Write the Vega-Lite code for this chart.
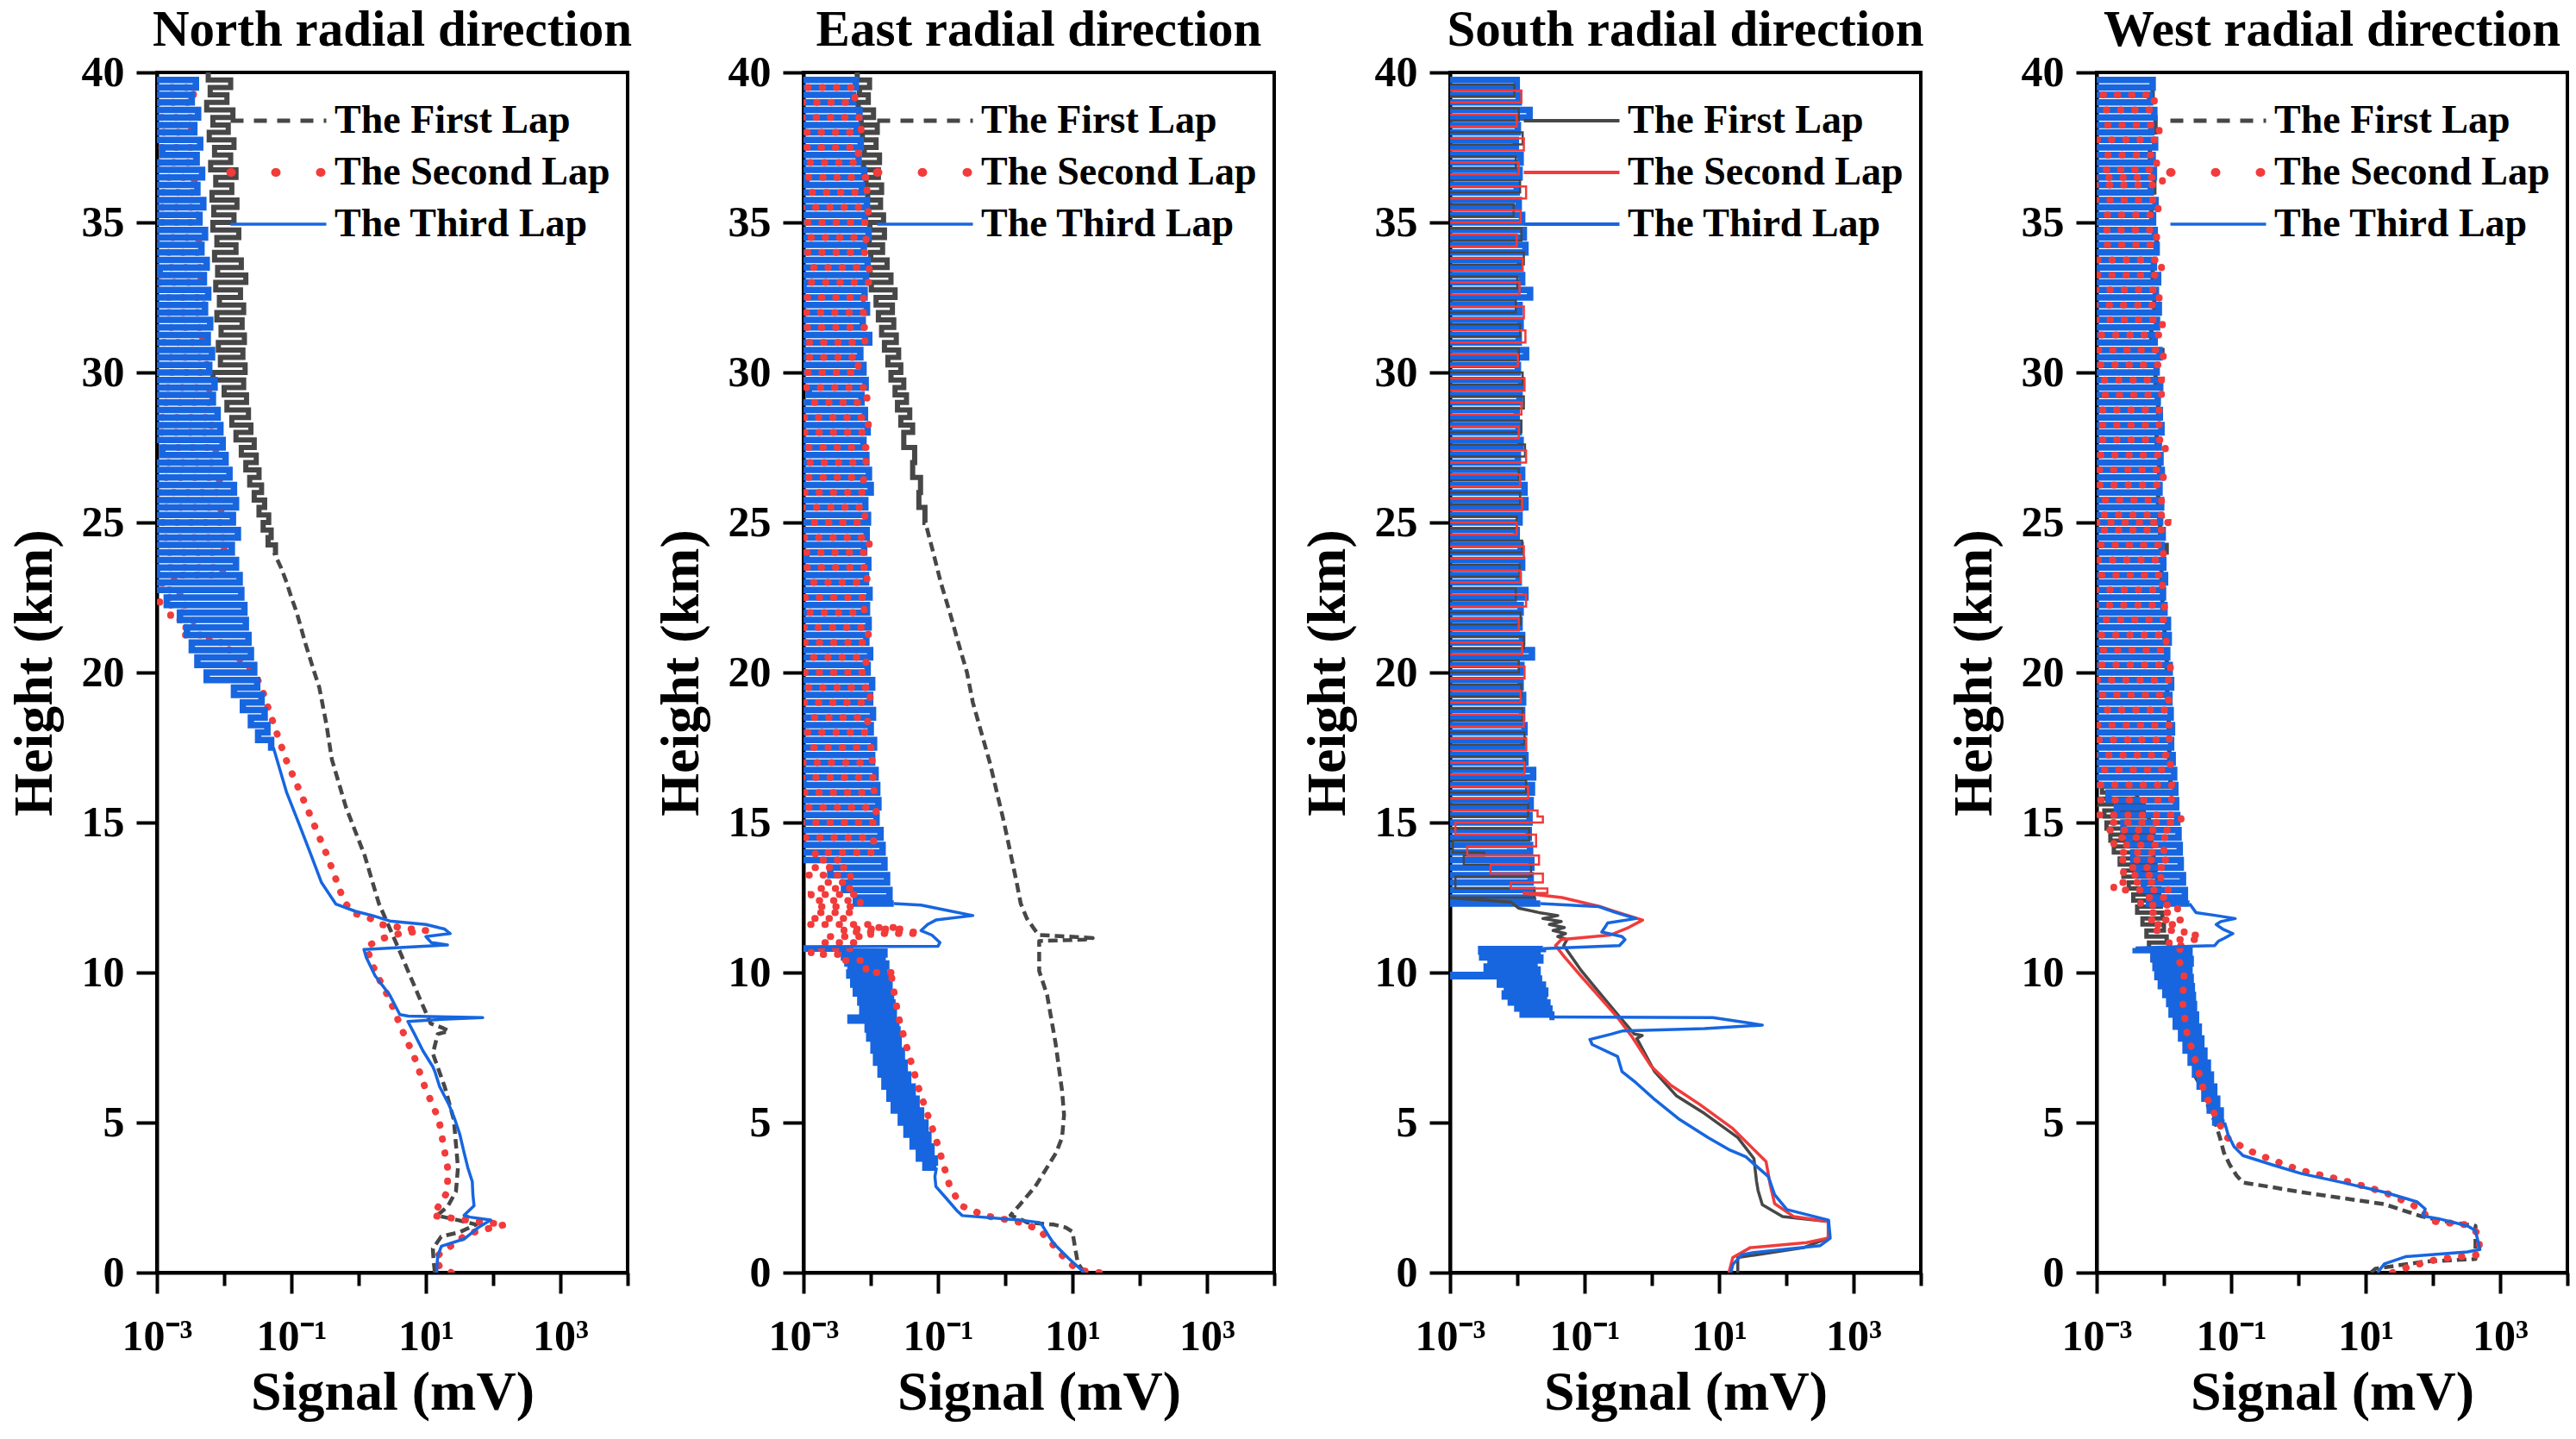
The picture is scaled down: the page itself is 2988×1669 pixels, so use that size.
{
  "$schema": "https://vega.github.io/schema/vega-lite/v6.json",
  "background": "white",
  "padding": {"left": 6, "top": 4, "right": 0, "bottom": 0},
  "bounds": "flush",
  "spacing": 204,
  "config": {
    "font": "Liberation Serif",
    "view": {"stroke": "black", "strokeWidth": 4},
    "title": {"font": "Liberation Serif", "fontSize": 59, "fontWeight": "bold", "color": "black", "anchor": "middle", "offset": -6},
    "axis": {
      "grid": false, "labelFont": "Liberation Serif", "labelFontSize": 50, "labelFontWeight": "bold", "labelColor": "black",
      "titleFont": "Liberation Serif", "titleFontSize": 64, "titleFontWeight": "bold", "titleColor": "black",
      "domainColor": "black", "domainWidth": 4, "tickColor": "black", "tickWidth": 4,
      "labelFlush": false, "labelOverlap": false, "labelBound": false
    },
    "legend": {
      "title": null, "orient": "none", "symbolType": "stroke", "symbolSize": 12321, "symbolStrokeWidth": 4,
      "labelFont": "Liberation Serif", "labelFontSize": 46, "labelFontWeight": "bold", "labelColor": "black",
      "labelOffset": 10, "rowPadding": 14, "padding": 0, "labelLimit": 0
    }
  },
  "resolve": {"scale": {"color": "independent", "x": "independent", "y": "independent"}},
  "datasets": {
    "nF": [
      {"h":40,"v":0.0058},{"h":39.75,"v":0.0125},{"h":39.5,"v":0.0062},{"h":39.25,"v":0.011},{"h":39,"v":0.0055},{"h":38.75,"v":0.0135},{"h":38.5,"v":0.0068},{"h":38.25,"v":0.0115},{"h":38,"v":0.006},{"h":37.75,"v":0.014},{"h":37.5,"v":0.0072},{"h":37.25,"v":0.0125},{"h":37,"v":0.0063},{"h":36.75,"v":0.015},{"h":36.5,"v":0.0075},{"h":36.25,"v":0.013},{"h":36,"v":0.0066},{"h":35.75,"v":0.0155},{"h":35.5,"v":0.007},{"h":35.25,"v":0.014},{"h":35,"v":0.0068},{"h":34.75,"v":0.0165},{"h":34.5,"v":0.0078},{"h":34.25,"v":0.015},{"h":34,"v":0.0072},{"h":33.75,"v":0.018},{"h":33.5,"v":0.008},{"h":33.25,"v":0.021},{"h":33,"v":0.0075},{"h":32.75,"v":0.0175},{"h":32.5,"v":0.0085},{"h":32.25,"v":0.0195},{"h":32,"v":0.0078},{"h":31.75,"v":0.0185},{"h":31.5,"v":0.009},{"h":31.25,"v":0.02},{"h":31,"v":0.0082},{"h":30.75,"v":0.019},{"h":30.5,"v":0.0088},{"h":30.25,"v":0.0205},{"h":30,"v":0.0068},{"h":29.75,"v":0.0195},{"h":29.5,"v":0.01},{"h":29.25,"v":0.0215},{"h":29,"v":0.011},{"h":28.75,"v":0.023},{"h":28.5,"v":0.013},{"h":28.25,"v":0.025},{"h":28,"v":0.015},{"h":27.75,"v":0.028},{"h":27.5,"v":0.018},{"h":27.25,"v":0.03},{"h":27,"v":0.021},{"h":26.75,"v":0.033},{"h":26.5,"v":0.024},{"h":26.25,"v":0.036},{"h":26,"v":0.028},{"h":25.75,"v":0.04},{"h":25.5,"v":0.033},{"h":25.25,"v":0.046},{"h":25,"v":0.038},{"h":24.75,"v":0.05},{"h":24.5,"v":0.045},{"h":24.25,"v":0.058},{"h":24,"v":0.055},{"h":23.5,"v":0.07},{"h":23,"v":0.085},{"h":22.5,"v":0.1},{"h":22,"v":0.12},{"h":21,"v":0.16},{"h":20,"v":0.22},{"h":19.5,"v":0.26},{"h":18.3,"v":0.33},{"h":17.1,"v":0.4},{"h":15.5,"v":0.65},{"h":13.9,"v":1.23},{"h":12.3,"v":2},{"h":11.5,"v":2.87},{"h":10.7,"v":4.1},{"h":9.9,"v":5.8},{"h":9.25,"v":7.7},{"h":8.3,"v":11.8},{"h":8.15,"v":18},{"h":8.05,"v":22},{"h":7.95,"v":15},{"h":7.3,"v":12.7},{"h":6.2,"v":19},{"h":5.1,"v":26},{"h":3.5,"v":30},{"h":2.7,"v":28},{"h":2.2,"v":21},{"h":1.9,"v":14.6},{"h":1.75,"v":30},{"h":1.6,"v":56},{"h":1.35,"v":32},{"h":1.2,"v":16.9},{"h":0.8,"v":12.7},{"h":0.4,"v":13},{"h":0,"v":13.6}
    ],
    "nS": [
      {"h":40,"v":0.0006},{"h":39.5,"v":0.0035},{"h":39,"v":0.0007},{"h":38.5,"v":0.0032},{"h":38,"v":0.0006},{"h":37.5,"v":0.0038},{"h":37,"v":0.0008},{"h":36.5,"v":0.0036},{"h":36,"v":0.0006},{"h":35.5,"v":0.004},{"h":35,"v":0.0007},{"h":34.5,"v":0.0042},{"h":34,"v":0.0006},{"h":33.5,"v":0.0045},{"h":33,"v":0.0008},{"h":32.5,"v":0.005},{"h":32,"v":0.0006},{"h":31.5,"v":0.0048},{"h":31,"v":0.0007},{"h":30.5,"v":0.0055},{"h":30,"v":0.0006},{"h":29.5,"v":0.006},{"h":29,"v":0.0008},{"h":28.5,"v":0.0065},{"h":28,"v":0.0006},{"h":27.5,"v":0.0075},{"h":27,"v":0.0007},{"h":26.5,"v":0.0085},{"h":26,"v":0.0006},{"h":25.5,"v":0.009},{"h":25,"v":0.0008},{"h":24.5,"v":0.01},{"h":24,"v":0.0006},{"h":23.5,"v":0.0095},{"h":23.25,"v":0.0018},{"h":23,"v":0.0012},{"h":22.75,"v":0.0022},{"h":22.5,"v":0.0011},{"h":22.25,"v":0.0028},{"h":22,"v":0.0016},{"h":21.75,"v":0.0035},{"h":21.5,"v":0.0024},{"h":21.25,"v":0.006},{"h":21,"v":0.009},{"h":20.5,"v":0.016},{"h":20,"v":0.028},{"h":19.5,"v":0.036},{"h":18.7,"v":0.047},{"h":17.1,"v":0.083},{"h":15.5,"v":0.17},{"h":13.9,"v":0.34},{"h":12.4,"v":0.6},{"h":12,"v":0.8},{"h":11.8,"v":1.5},{"h":11.6,"v":2.2},{"h":11.45,"v":6},{"h":11.4,"v":10},{"h":11.3,"v":4.1},{"h":11.1,"v":2},{"h":10.85,"v":1.3},{"h":10.05,"v":1.75},{"h":9.1,"v":2.9},{"h":8.1,"v":4.4},{"h":7.2,"v":6.7},{"h":6.2,"v":9.6},{"h":5.1,"v":15.6},{"h":3.5,"v":21},{"h":2.7,"v":21},{"h":1.9,"v":12.7},{"h":1.7,"v":60},{"h":1.6,"v":150},{"h":1.3,"v":42},{"h":0.5,"v":13.6},{"h":0.2,"v":16},{"h":0,"v":24}
    ],
    "nT": [
      {"h":40,"v":0.0006},{"h":39.75,"v":0.0038},{"h":39.5,"v":0.0007},{"h":39.25,"v":0.0033},{"h":39,"v":0.0005},{"h":38.75,"v":0.0041},{"h":38.5,"v":0.0008},{"h":38.25,"v":0.0036},{"h":38,"v":0.0006},{"h":37.75,"v":0.0044},{"h":37.5,"v":0.0012},{"h":37.25,"v":0.0039},{"h":37,"v":0.0006},{"h":36.75,"v":0.0047},{"h":36.5,"v":0.0007},{"h":36.25,"v":0.004},{"h":36,"v":0.0005},{"h":35.75,"v":0.0049},{"h":35.5,"v":0.0009},{"h":35.25,"v":0.0043},{"h":35,"v":0.0006},{"h":34.75,"v":0.0052},{"h":34.5,"v":0.0007},{"h":34.25,"v":0.0046},{"h":34,"v":0.0006},{"h":33.75,"v":0.0055},{"h":33.5,"v":0.0011},{"h":33.25,"v":0.005},{"h":33,"v":0.0005},{"h":32.75,"v":0.0058},{"h":32.5,"v":0.0007},{"h":32.25,"v":0.0052},{"h":32,"v":0.0006},{"h":31.75,"v":0.0062},{"h":31.5,"v":0.0008},{"h":31.25,"v":0.0057},{"h":31,"v":0.0006},{"h":30.75,"v":0.0066},{"h":30.5,"v":0.0007},{"h":30.25,"v":0.006},{"h":30,"v":0.0005},{"h":29.75,"v":0.0072},{"h":29.5,"v":0.0009},{"h":29.25,"v":0.0068},{"h":29,"v":0.0006},{"h":28.75,"v":0.008},{"h":28.5,"v":0.0007},{"h":28.25,"v":0.0088},{"h":28,"v":0.0006},{"h":27.75,"v":0.0095},{"h":27.5,"v":0.0012},{"h":27.25,"v":0.0105},{"h":27,"v":0.0006},{"h":26.75,"v":0.012},{"h":26.5,"v":0.0007},{"h":26.25,"v":0.014},{"h":26,"v":0.0005},{"h":25.75,"v":0.015},{"h":25.5,"v":0.0008},{"h":25.25,"v":0.0135},{"h":25,"v":0.0006},{"h":24.75,"v":0.016},{"h":24.5,"v":0.0007},{"h":24.25,"v":0.013},{"h":24,"v":0.0006},{"h":23.75,"v":0.015},{"h":23.5,"v":0.001},{"h":23.25,"v":0.017},{"h":23,"v":0.0007},{"h":22.75,"v":0.018},{"h":22.5,"v":0.0014},{"h":22.25,"v":0.02},{"h":22,"v":0.0022},{"h":21.75,"v":0.021},{"h":21.5,"v":0.0028},{"h":21.25,"v":0.023},{"h":21,"v":0.0033},{"h":20.75,"v":0.025},{"h":20.5,"v":0.004},{"h":20.25,"v":0.028},{"h":20,"v":0.0055},{"h":19.75,"v":0.031},{"h":19.5,"v":0.014},{"h":19.25,"v":0.036},{"h":19,"v":0.019},{"h":18.75,"v":0.04},{"h":18.5,"v":0.025},{"h":18.25,"v":0.044},{"h":18,"v":0.032},{"h":17.75,"v":0.05},{"h":17.5,"v":0.054},
      {"h":16,"v":0.085},{"h":14.95,"v":0.13},{"h":14,"v":0.19},{"h":13,"v":0.28},{"h":12.28,"v":0.46},{"h":12.04,"v":0.9},{"h":11.9,"v":1.6},{"h":11.72,"v":2.9},{"h":11.6,"v":10},{"h":11.45,"v":19},{"h":11.3,"v":23},{"h":11.2,"v":10},{"h":11,"v":12},{"h":10.92,"v":21},{"h":10.77,"v":1.2},{"h":10.5,"v":1.3},{"h":9.9,"v":1.75},{"h":9.25,"v":2.9},{"h":8.6,"v":4.1},{"h":8.55,"v":5.5},{"h":8.5,"v":70},{"h":8.45,"v":20},{"h":8.37,"v":5.4},{"h":7.97,"v":6.7},{"h":7.4,"v":9},{"h":6.86,"v":12.7},{"h":6.7,"v":13.6},{"h":6.2,"v":16},{"h":5.6,"v":22},{"h":5.1,"v":27},{"h":4.6,"v":32},{"h":4,"v":37},{"h":3.5,"v":42},{"h":3.03,"v":49},{"h":2.6,"v":50},{"h":2.23,"v":52},{"h":1.91,"v":37},{"h":1.85,"v":45},{"h":1.75,"v":92},{"h":1.5,"v":60},{"h":1.12,"v":37},{"h":0.88,"v":17},{"h":0.56,"v":15},{"h":0.3,"v":14.7},{"h":0,"v":14.5}
    ],
    "eF": [
      {"h":40,"v":0.0063},{"h":39.75,"v":0.0096},{"h":39.5,"v":0.0068},{"h":39.25,"v":0.0092},{"h":39,"v":0.0065},{"h":38.75,"v":0.011},{"h":38.5,"v":0.0072},{"h":38.25,"v":0.0125},{"h":38,"v":0.0075},{"h":37.75,"v":0.012},{"h":37.5,"v":0.008},{"h":37.25,"v":0.0135},{"h":37,"v":0.0078},{"h":36.75,"v":0.013},{"h":36.5,"v":0.0085},{"h":36.25,"v":0.0145},{"h":36,"v":0.009},{"h":35.75,"v":0.014},{"h":35.5,"v":0.0088},{"h":35.25,"v":0.0155},{"h":35,"v":0.0097},{"h":34.75,"v":0.016},{"h":34.5,"v":0.0095},{"h":34.25,"v":0.015},{"h":34,"v":0.01},{"h":33.75,"v":0.0175},{"h":33.5,"v":0.0098},{"h":33.25,"v":0.02},{"h":33,"v":0.0102},{"h":32.75,"v":0.023},{"h":32.5,"v":0.012},{"h":32.25,"v":0.021},{"h":32,"v":0.013},{"h":31.75,"v":0.022},{"h":31.5,"v":0.0145},{"h":31.25,"v":0.024},{"h":31,"v":0.016},{"h":30.75,"v":0.026},{"h":30.5,"v":0.018},{"h":30.25,"v":0.028},{"h":30,"v":0.02},{"h":29.75,"v":0.031},{"h":29.5,"v":0.023},{"h":29.25,"v":0.034},{"h":29,"v":0.025},{"h":28.75,"v":0.038},{"h":28.5,"v":0.028},{"h":28.25,"v":0.042},{"h":28,"v":0.031},{"h":27.5,"v":0.045},{"h":27,"v":0.042},{"h":26.5,"v":0.055},{"h":26,"v":0.052},{"h":25.5,"v":0.064},{"h":25,"v":0.065},{"h":24,"v":0.085},{"h":23,"v":0.11},{"h":22,"v":0.15},{"h":21,"v":0.2},{"h":20,"v":0.27},{"h":19,"v":0.33},{"h":17,"v":0.59},{"h":15,"v":0.96},{"h":13,"v":1.48},{"h":12.3,"v":1.7},{"h":11.8,"v":2.1},{"h":11.4,"v":2.8},{"h":11.25,"v":3.2},{"h":11.2,"v":9},{"h":11.15,"v":20},{"h":11.1,"v":15},{"h":11.05,"v":3.2},{"h":10.05,"v":3.2},{"h":9.25,"v":4.2},{"h":7.65,"v":5.6},{"h":6.06,"v":7},{"h":5.26,"v":7.5},{"h":4.5,"v":7},{"h":3.99,"v":5.7},{"h":2.87,"v":2.8},{"h":2.23,"v":1.6},{"h":1.91,"v":1.2},{"h":1.75,"v":1.8},{"h":1.67,"v":2.1},{"h":1.6,"v":5.3},{"h":1.5,"v":8},{"h":1.36,"v":10},{"h":0.96,"v":10.7},{"h":0.32,"v":12},{"h":0,"v":15}
    ],
    "eS": [
      {"h":40,"v":0.0007},{"h":39.5,"v":0.0058},{"h":39,"v":0.0006},{"h":38.5,"v":0.0072},{"h":38,"v":0.0009},{"h":37.5,"v":0.0065},{"h":37,"v":0.0006},{"h":36.5,"v":0.0088},{"h":36,"v":0.0007},{"h":35.5,"v":0.0092},{"h":35,"v":0.0006},{"h":34.5,"v":0.0085},{"h":34,"v":0.0008},{"h":33.5,"v":0.0095},{"h":33,"v":0.0006},{"h":32.5,"v":0.0078},{"h":32,"v":0.0007},{"h":31.5,"v":0.0082},{"h":31,"v":0.0006},{"h":30.5,"v":0.0065},{"h":30,"v":0.0009},{"h":29.5,"v":0.0088},{"h":29,"v":0.0006},{"h":28.5,"v":0.0092},{"h":28,"v":0.0007},{"h":27.5,"v":0.0085},{"h":27,"v":0.0006},{"h":26.5,"v":0.0078},{"h":26,"v":0.0008},{"h":25.5,"v":0.0082},{"h":25,"v":0.0006},{"h":24.5,"v":0.0095},{"h":24,"v":0.0007},{"h":23.5,"v":0.0088},{"h":23,"v":0.0006},{"h":22.5,"v":0.008},{"h":22,"v":0.0009},{"h":21.5,"v":0.0092},{"h":21,"v":0.0006},{"h":20.5,"v":0.0085},{"h":20,"v":0.0007},{"h":19.5,"v":0.0098},{"h":19,"v":0.0006},{"h":18.5,"v":0.009},{"h":18,"v":0.0008},{"h":17.5,"v":0.0105},{"h":17,"v":0.0006},{"h":16.5,"v":0.0112},{"h":16,"v":0.0007},{"h":15.5,"v":0.012},{"h":15,"v":0.0008},{"h":14.5,"v":0.011},{"h":14,"v":0.0015},{"h":13.75,"v":0.004},{"h":13.5,"v":0.0012},{"h":13.25,"v":0.005},{"h":13,"v":0.0018},{"h":12.8,"v":0.006},{"h":12.6,"v":0.0013},{"h":12.4,"v":0.007},{"h":12.2,"v":0.0016},{"h":12,"v":0.005},{"h":11.8,"v":0.0012},{"h":11.6,"v":0.012},{"h":11.5,"v":0.03},{"h":11.45,"v":0.004},{"h":11.35,"v":0.053},{"h":11.3,"v":0.01},{"h":11.2,"v":0.002},{"h":11,"v":0.006},{"h":10.8,"v":0.0013},{"h":10.6,"v":0.004},{"h":10.4,"v":0.0085},{"h":10,"v":0.02},{"h":9.4,"v":0.022},{"h":8.5,"v":0.026},{"h":7.65,"v":0.033},{"h":6.06,"v":0.053},{"h":4.47,"v":0.093},{"h":2.87,"v":0.15},{"h":2.23,"v":0.22},{"h":1.9,"v":0.5},{"h":1.67,"v":1.7},{"h":1.43,"v":3.2},{"h":0.96,"v":5},{"h":0.5,"v":7.5},{"h":0.08,"v":12},{"h":0,"v":25}
    ],
    "eT": [
      {"h":40,"v":0.0005},{"h":39.75,"v":0.006},{"h":39.5,"v":0.0007},{"h":39.25,"v":0.0055},{"h":39,"v":0.0006},{"h":38.75,"v":0.0068},{"h":38.5,"v":0.0009},{"h":38.25,"v":0.0062},{"h":38,"v":0.0005},{"h":37.75,"v":0.0071},{"h":37.5,"v":0.0007},{"h":37.25,"v":0.0066},{"h":37,"v":0.0006},{"h":36.75,"v":0.008},{"h":36.5,"v":0.0011},{"h":36.25,"v":0.0074},{"h":36,"v":0.0006},{"h":35.75,"v":0.0088},{"h":35.5,"v":0.0007},{"h":35.25,"v":0.0082},{"h":35,"v":0.0005},{"h":34.75,"v":0.0093},{"h":34.5,"v":0.0008},{"h":34.25,"v":0.0079},{"h":34,"v":0.0006},{"h":33.75,"v":0.009},{"h":33.5,"v":0.0007},{"h":33.25,"v":0.0085},{"h":33,"v":0.001},{"h":32.75,"v":0.0081},{"h":32.5,"v":0.0006},{"h":32.25,"v":0.0088},{"h":32,"v":0.0007},{"h":31.75,"v":0.0076},{"h":31.5,"v":0.0005},{"h":31.25,"v":0.0095},{"h":31,"v":0.0008},{"h":30.75,"v":0.007},{"h":30.5,"v":0.0006},{"h":30.25,"v":0.0078},{"h":30,"v":0.0007},{"h":29.75,"v":0.0084},{"h":29.5,"v":0.0012},{"h":29.25,"v":0.0073},{"h":29,"v":0.0006},{"h":28.75,"v":0.0082},{"h":28.5,"v":0.0007},{"h":28.25,"v":0.009},{"h":28,"v":0.0005},{"h":27.75,"v":0.0078},{"h":27.5,"v":0.0009},{"h":27.25,"v":0.0086},{"h":27,"v":0.0006},{"h":26.75,"v":0.0094},{"h":26.5,"v":0.0007},{"h":26.25,"v":0.01},{"h":26,"v":0.0006},{"h":25.75,"v":0.0083},{"h":25.5,"v":0.0008},{"h":25.25,"v":0.0091},{"h":25,"v":0.0005},{"h":24.75,"v":0.0087},{"h":24.5,"v":0.0007},{"h":24.25,"v":0.008},{"h":24,"v":0.0011},{"h":23.75,"v":0.0092},{"h":23.5,"v":0.0006},{"h":23.25,"v":0.0085},{"h":23,"v":0.0007},{"h":22.75,"v":0.0096},{"h":22.5,"v":0.0006},{"h":22.25,"v":0.0088},{"h":22,"v":0.0008},{"h":21.75,"v":0.0093},{"h":21.5,"v":0.0005},{"h":21.25,"v":0.0086},{"h":21,"v":0.0007},{"h":20.75,"v":0.0098},{"h":20.5,"v":0.0006},{"h":20.25,"v":0.009},{"h":20,"v":0.0009},{"h":19.75,"v":0.0105},{"h":19.5,"v":0.0006},{"h":19.25,"v":0.0098},{"h":19,"v":0.0007},{"h":18.75,"v":0.0108},{"h":18.5,"v":0.0005},{"h":18.25,"v":0.01},{"h":18,"v":0.0008},{"h":17.75,"v":0.0112},{"h":17.5,"v":0.0006},{"h":17.25,"v":0.0105},{"h":17,"v":0.0007},{"h":16.75,"v":0.0118},{"h":16.5,"v":0.001},{"h":16.25,"v":0.0125},{"h":16,"v":0.0006},{"h":15.75,"v":0.013},{"h":15.5,"v":0.0007},{"h":15.25,"v":0.0122},{"h":15,"v":0.0008},{"h":14.75,"v":0.014},{"h":14.5,"v":0.0006},{"h":14.25,"v":0.015},{"h":14,"v":0.0009},{"h":13.75,"v":0.016},{"h":13.5,"v":0.0025},{"h":13.25,"v":0.0175},{"h":13,"v":0.004},{"h":12.75,"v":0.019},{"h":12.5,"v":0.006},{"h":12.3,"v":0.022},
      {"h":12.25,"v":0.056},{"h":12.1,"v":0.12},{"h":11.9,"v":0.33},{"h":11.75,"v":0.093},{"h":11.6,"v":0.07},{"h":11.4,"v":0.056},{"h":11.25,"v":0.081},{"h":11,"v":0.107},{"h":10.88,"v":0.1},{"h":10.85,"v":0.0005},
      {"h":10.8,"v":0.0045},{"h":10.7,"v":0.016},{"h":10.6,"v":0.004},{"h":10.5,"v":0.015},{"h":10.4,"v":0.0045},{"h":10.3,"v":0.017},{"h":10.2,"v":0.005},{"h":10.1,"v":0.016},{"h":10,"v":0.0048},{"h":9.9,"v":0.018},{"h":9.75,"v":0.0055},{"h":9.6,"v":0.019},{"h":9.45,"v":0.006},{"h":9.3,"v":0.02},{"h":9.15,"v":0.007},{"h":9,"v":0.021},{"h":8.85,"v":0.0075},{"h":8.7,"v":0.022},{"h":8.5,"v":0.005},{"h":8.4,"v":0.024},{"h":8.25,"v":0.009},{"h":8.1,"v":0.025},{"h":7.95,"v":0.0095},{"h":7.8,"v":0.026},{"h":7.6,"v":0.011},{"h":7.4,"v":0.029},{"h":7.2,"v":0.012},{"h":7,"v":0.032},{"h":6.8,"v":0.014},{"h":6.6,"v":0.036},{"h":6.4,"v":0.016},{"h":6.2,"v":0.042},{"h":6,"v":0.019},{"h":5.8,"v":0.048},{"h":5.6,"v":0.022},{"h":5.4,"v":0.056},{"h":5.2,"v":0.028},{"h":5,"v":0.065},{"h":4.8,"v":0.034},{"h":4.6,"v":0.072},{"h":4.4,"v":0.042},{"h":4.2,"v":0.08},{"h":4,"v":0.052},{"h":3.8,"v":0.09},{"h":3.67,"v":0.065},{"h":3.5,"v":0.095},
      {"h":3.2,"v":0.09},{"h":2.87,"v":0.093},{"h":2.5,"v":0.13},{"h":2.07,"v":0.19},{"h":1.9,"v":0.23},{"h":1.75,"v":1.6},{"h":1.67,"v":3.2},{"h":1.6,"v":3.5},{"h":1.2,"v":4.5},{"h":0.96,"v":5.3},{"h":0.48,"v":8.7},{"h":0,"v":15}
    ],
    "sF": [
      {"h":40,"v":0.0006},{"h":39.6,"v":0.009},{"h":39.2,"v":0.0007},{"h":38.8,"v":0.0105},{"h":38.4,"v":0.0006},{"h":38,"v":0.012},{"h":37.6,"v":0.0008},{"h":37.2,"v":0.0095},{"h":36.8,"v":0.0006},{"h":36.4,"v":0.011},{"h":36,"v":0.0007},{"h":35.6,"v":0.0088},{"h":35.2,"v":0.0006},{"h":34.8,"v":0.0115},{"h":34.4,"v":0.0009},{"h":34,"v":0.0125},{"h":33.6,"v":0.0006},{"h":33.2,"v":0.01},{"h":32.8,"v":0.0007},{"h":32.4,"v":0.0095},{"h":32,"v":0.0006},{"h":31.6,"v":0.011},{"h":31.2,"v":0.0008},{"h":30.8,"v":0.0105},{"h":30.4,"v":0.0006},{"h":30,"v":0.012},{"h":29.6,"v":0.0007},{"h":29.2,"v":0.0125},{"h":28.8,"v":0.0006},{"h":28.4,"v":0.0115},{"h":28,"v":0.0009},{"h":27.6,"v":0.013},{"h":27.2,"v":0.0006},{"h":26.8,"v":0.0105},{"h":26.4,"v":0.0007},{"h":26,"v":0.011},{"h":25.6,"v":0.0006},{"h":25.2,"v":0.0098},{"h":24.8,"v":0.0008},{"h":24.4,"v":0.0118},{"h":24,"v":0.0006},{"h":23.6,"v":0.0108},{"h":23.2,"v":0.0007},{"h":22.8,"v":0.0095},{"h":22.4,"v":0.0006},{"h":22,"v":0.0112},{"h":21.6,"v":0.0009},{"h":21.2,"v":0.0125},{"h":20.8,"v":0.0006},{"h":20.4,"v":0.0105},{"h":20,"v":0.0007},{"h":19.6,"v":0.0115},{"h":19.2,"v":0.0006},{"h":18.8,"v":0.012},{"h":18.4,"v":0.0008},{"h":18,"v":0.0128},{"h":17.6,"v":0.0006},{"h":17.2,"v":0.013},{"h":16.8,"v":0.0007},{"h":16.4,"v":0.0135},{"h":16,"v":0.0006},{"h":15.6,"v":0.0145},{"h":15.2,"v":0.0009},{"h":14.8,"v":0.015},{"h":14.4,"v":0.0011},{"h":14,"v":0.0032},{"h":13.9,"v":0.0016},{"h":13.6,"v":0.016},{"h":13.2,"v":0.0012},{"h":12.8,"v":0.018},{"h":12.5,"v":0.0009},{"h":12.35,"v":0.008},{"h":12.15,"v":0.0104},{"h":12,"v":0.021},{"h":11.9,"v":0.04},{"h":11.8,"v":0.024},{"h":11.7,"v":0.045},{"h":11.6,"v":0.03},{"h":11.5,"v":0.05},{"h":11.4,"v":0.034},{"h":11.3,"v":0.052},{"h":11.2,"v":0.04},{"h":11.1,"v":0.055},{"h":10.9,"v":0.049},{"h":10.1,"v":0.087},{"h":9.45,"v":0.15},{"h":8.6,"v":0.31},{"h":7.95,"v":0.55},{"h":7.9,"v":0.72},{"h":7.8,"v":0.6},{"h":6.7,"v":1.1},{"h":5.9,"v":2.3},{"h":5.3,"v":6.1},{"h":4.5,"v":19},{"h":3.8,"v":33},{"h":3.06,"v":36},{"h":2.74,"v":38},{"h":2.26,"v":44},{"h":1.87,"v":88},{"h":1.7,"v":420},{"h":1.15,"v":420},{"h":0.83,"v":180},{"h":0.5,"v":19},{"h":0,"v":19}
    ],
    "sS": [
      {"h":39.8,"v":0.0007},{"h":39.4,"v":0.0115},{"h":39,"v":0.0006},{"h":38.6,"v":0.0098},{"h":38.2,"v":0.0008},{"h":37.8,"v":0.0125},{"h":37.4,"v":0.0006},{"h":37,"v":0.0105},{"h":36.6,"v":0.0007},{"h":36.2,"v":0.0135},{"h":35.8,"v":0.0006},{"h":35.4,"v":0.0112},{"h":35,"v":0.0009},{"h":34.6,"v":0.0098},{"h":34.2,"v":0.0006},{"h":33.8,"v":0.012},{"h":33.4,"v":0.0007},{"h":33,"v":0.0108},{"h":32.6,"v":0.0006},{"h":32.2,"v":0.0125},{"h":31.8,"v":0.0008},{"h":31.4,"v":0.0132},{"h":31,"v":0.0006},{"h":30.6,"v":0.0102},{"h":30.2,"v":0.0007},{"h":29.8,"v":0.0128},{"h":29.4,"v":0.0006},{"h":29,"v":0.0115},{"h":28.6,"v":0.0009},{"h":28.2,"v":0.0105},{"h":27.8,"v":0.0006},{"h":27.4,"v":0.0135},{"h":27,"v":0.0007},{"h":26.6,"v":0.011},{"h":26.2,"v":0.0006},{"h":25.8,"v":0.0118},{"h":25.4,"v":0.0008},{"h":25,"v":0.0098},{"h":24.6,"v":0.0006},{"h":24.2,"v":0.0125},{"h":23.8,"v":0.0007},{"h":23.4,"v":0.0112},{"h":23,"v":0.0006},{"h":22.6,"v":0.0135},{"h":22.2,"v":0.0009},{"h":21.8,"v":0.0105},{"h":21.4,"v":0.0006},{"h":21,"v":0.0118},{"h":20.6,"v":0.0007},{"h":20.2,"v":0.0128},{"h":19.8,"v":0.0006},{"h":19.4,"v":0.0112},{"h":19,"v":0.0008},{"h":18.6,"v":0.0125},{"h":18.2,"v":0.0006},{"h":17.8,"v":0.0135},{"h":17.4,"v":0.0007},{"h":17,"v":0.0128},{"h":16.6,"v":0.0006},{"h":16.2,"v":0.0145},{"h":15.8,"v":0.0009},{"h":15.4,"v":0.02},{"h":15.2,"v":0.024},{"h":15,"v":0.0012},{"h":14.6,"v":0.019},{"h":14.2,"v":0.0018},{"h":13.9,"v":0.021},{"h":13.6,"v":0.004},{"h":13.3,"v":0.024},{"h":13,"v":0.008},{"h":12.8,"v":0.028},{"h":12.65,"v":0.012},{"h":12.5,"v":0.046},{"h":12.2,"v":0.17},{"h":12.05,"v":0.27},{"h":11.75,"v":0.73},{"h":11.5,"v":0.45},{"h":11.25,"v":0.24},{"h":11.1,"v":0.045},{"h":10.9,"v":0.037},{"h":10.55,"v":0.049},{"h":9.9,"v":0.087},{"h":9.3,"v":0.15},{"h":8.5,"v":0.31},{"h":7.85,"v":0.51},{"h":6.9,"v":0.96},{"h":6.25,"v":1.9},{"h":5.6,"v":5.2},{"h":4.8,"v":16},{"h":3.7,"v":50},{"h":2.9,"v":58},{"h":2.3,"v":67},{"h":1.87,"v":128},{"h":1.7,"v":425},{"h":1.15,"v":420},{"h":1,"v":200},{"h":0.83,"v":29},{"h":0.5,"v":16},{"h":0,"v":14}
    ],
    "sT": [
      {"h":40,"v":0.0005},{"h":39.75,"v":0.0098},{"h":39.5,"v":0.0007},{"h":39.25,"v":0.0105},{"h":39,"v":0.0006},{"h":38.75,"v":0.0152},{"h":38.5,"v":0.0008},{"h":38.25,"v":0.0102},{"h":38,"v":0.0006},{"h":37.75,"v":0.0095},{"h":37.5,"v":0.0007},{"h":37.25,"v":0.0112},{"h":37,"v":0.0006},{"h":36.75,"v":0.0108},{"h":36.5,"v":0.001},{"h":36.25,"v":0.0098},{"h":36,"v":0.0006},{"h":35.75,"v":0.0105},{"h":35.5,"v":0.0007},{"h":35.25,"v":0.0118},{"h":35,"v":0.0006},{"h":34.75,"v":0.0125},{"h":34.5,"v":0.0009},{"h":34.25,"v":0.0132},{"h":34,"v":0.0006},{"h":33.75,"v":0.011},{"h":33.5,"v":0.0007},{"h":33.25,"v":0.0118},{"h":33,"v":0.0006},{"h":32.75,"v":0.0155},{"h":32.5,"v":0.0008},{"h":32.25,"v":0.0108},{"h":32,"v":0.0006},{"h":31.75,"v":0.0112},{"h":31.5,"v":0.0007},{"h":31.25,"v":0.0105},{"h":31,"v":0.0006},{"h":30.75,"v":0.0135},{"h":30.5,"v":0.0009},{"h":30.25,"v":0.0102},{"h":30,"v":0.0006},{"h":29.75,"v":0.0115},{"h":29.5,"v":0.0007},{"h":29.25,"v":0.0108},{"h":29,"v":0.0006},{"h":28.75,"v":0.0098},{"h":28.5,"v":0.0008},{"h":28.25,"v":0.0105},{"h":28,"v":0.0006},{"h":27.75,"v":0.0112},{"h":27.5,"v":0.0007},{"h":27.25,"v":0.0102},{"h":27,"v":0.0006},{"h":26.75,"v":0.0118},{"h":26.5,"v":0.0009},{"h":26.25,"v":0.0128},{"h":26,"v":0.0006},{"h":25.75,"v":0.0132},{"h":25.5,"v":0.0007},{"h":25.25,"v":0.0108},{"h":25,"v":0.0006},{"h":24.75,"v":0.0098},{"h":24.5,"v":0.0008},{"h":24.25,"v":0.0112},{"h":24,"v":0.0006},{"h":23.75,"v":0.0118},{"h":23.5,"v":0.0007},{"h":23.25,"v":0.0105},{"h":23,"v":0.0006},{"h":22.75,"v":0.0132},{"h":22.5,"v":0.0009},{"h":22.25,"v":0.0112},{"h":22,"v":0.0006},{"h":21.75,"v":0.0108},{"h":21.5,"v":0.0007},{"h":21.25,"v":0.0118},{"h":21,"v":0.0006},{"h":20.75,"v":0.0165},{"h":20.5,"v":0.0008},{"h":20.25,"v":0.0115},{"h":20,"v":0.0006},{"h":19.75,"v":0.0112},{"h":19.5,"v":0.0007},{"h":19.25,"v":0.0122},{"h":19,"v":0.0006},{"h":18.75,"v":0.0118},{"h":18.5,"v":0.0009},{"h":18.25,"v":0.0128},{"h":18,"v":0.0006},{"h":17.75,"v":0.0125},{"h":17.5,"v":0.0007},{"h":17.25,"v":0.0132},{"h":17,"v":0.0006},{"h":16.75,"v":0.0172},{"h":16.5,"v":0.0008},{"h":16.25,"v":0.0165},{"h":16,"v":0.0006},{"h":15.75,"v":0.0158},{"h":15.5,"v":0.0007},{"h":15.25,"v":0.0152},{"h":15,"v":0.0006},{"h":14.75,"v":0.0148},{"h":14.5,"v":0.0009},{"h":14.25,"v":0.0155},{"h":14,"v":0.0006},{"h":13.75,"v":0.0162},{"h":13.5,"v":0.0007},{"h":13.25,"v":0.0158},{"h":13,"v":0.0006},{"h":12.75,"v":0.0168},{"h":12.5,"v":0.0008},{"h":12.4,"v":0.0172},{"h":12.32,"v":0.0005},{"h":12.3,"v":0.022},
      {"h":12.2,"v":0.16},{"h":12,"v":0.29},{"h":11.8,"v":0.58},{"h":11.65,"v":0.22},{"h":11.5,"v":0.2},{"h":11.35,"v":0.18},{"h":11.2,"v":0.36},{"h":11.1,"v":0.4},{"h":10.9,"v":0.33},{"h":10.8,"v":0.024},
      {"h":10.78,"v":0.0029},{"h":10.7,"v":0.02},{"h":10.6,"v":0.003},{"h":10.5,"v":0.022},{"h":10.4,"v":0.004},{"h":10.3,"v":0.018},{"h":10.2,"v":0.0035},{"h":10.1,"v":0.02},{"h":10,"v":0.005},{"h":9.92,"v":0.0005},{"h":9.88,"v":0.006},{"h":9.8,"v":0.021},{"h":9.7,"v":0.0055},{"h":9.6,"v":0.024},{"h":9.5,"v":0.007},{"h":9.4,"v":0.026},{"h":9.3,"v":0.0065},{"h":9.2,"v":0.025},{"h":9.1,"v":0.008},{"h":9,"v":0.028},{"h":8.9,"v":0.01},{"h":8.8,"v":0.03},{"h":8.7,"v":0.012},{"h":8.6,"v":0.032},{"h":8.52,"v":0.03},
      {"h":8.5,"v":8.1},{"h":8.25,"v":44},{"h":8.13,"v":6.1},{"h":8.05,"v":0.36},{"h":7.95,"v":0.25},{"h":7.77,"v":0.12},{"h":7.6,"v":0.13},{"h":7.2,"v":0.31},{"h":6.7,"v":0.36},{"h":6.33,"v":0.58},{"h":5.77,"v":1.1},{"h":5.1,"v":2.6},{"h":4.5,"v":6.9},{"h":4.1,"v":14},{"h":3.86,"v":25},{"h":3.2,"v":54},{"h":2.6,"v":67},{"h":2.1,"v":102},{"h":1.75,"v":425},{"h":1.15,"v":450},{"h":0.9,"v":320},{"h":0.67,"v":33},{"h":0.6,"v":22},{"h":0.27,"v":16},{"h":0,"v":15}
    ],
    "wF": [
      {"h":40,"v":0.0007},{"h":39.5,"v":0.0068},{"h":39,"v":0.0006},{"h":38.5,"v":0.0075},{"h":38,"v":0.0008},{"h":37.5,"v":0.0062},{"h":37,"v":0.0006},{"h":36.5,"v":0.0072},{"h":36,"v":0.0007},{"h":35.5,"v":0.0065},{"h":35,"v":0.0006},{"h":34.5,"v":0.0078},{"h":34,"v":0.0009},{"h":33.5,"v":0.0068},{"h":33,"v":0.0006},{"h":32.5,"v":0.0072},{"h":32,"v":0.0007},{"h":31.5,"v":0.0065},{"h":31,"v":0.0006},{"h":30.75,"v":0.0095},{"h":30.5,"v":0.0008},{"h":30,"v":0.0075},{"h":29.5,"v":0.0006},{"h":29,"v":0.0082},{"h":28.5,"v":0.0007},{"h":28,"v":0.0078},{"h":27.5,"v":0.0006},{"h":27,"v":0.0085},{"h":26.5,"v":0.0008},{"h":26,"v":0.0082},{"h":25.5,"v":0.0006},{"h":25,"v":0.0088},{"h":24.5,"v":0.0007},{"h":24.25,"v":0.011},{"h":24,"v":0.0006},{"h":23.5,"v":0.0092},{"h":23,"v":0.0008},{"h":22.5,"v":0.0095},{"h":22,"v":0.0006},{"h":21.5,"v":0.0102},{"h":21,"v":0.0007},{"h":20.5,"v":0.011},{"h":20,"v":0.0006},{"h":19.5,"v":0.0112},{"h":19,"v":0.0008},{"h":18.5,"v":0.0118},{"h":18,"v":0.0006},{"h":17.5,"v":0.012},{"h":17,"v":0.0009},{"h":16.5,"v":0.0125},{"h":16.2,"v":0.0012},{"h":16,"v":0.004},{"h":15.8,"v":0.0011},{"h":15.6,"v":0.005},{"h":15.4,"v":0.0013},{"h":15.2,"v":0.006},{"h":15,"v":0.0014},{"h":14.8,"v":0.007},{"h":14.6,"v":0.0016},{"h":14.4,"v":0.0065},{"h":14.2,"v":0.0018},{"h":14,"v":0.007},{"h":13.8,"v":0.0022},{"h":13.6,"v":0.0075},{"h":13.4,"v":0.0025},{"h":13.2,"v":0.008},{"h":13,"v":0.003},{"h":12.8,"v":0.0085},{"h":12.6,"v":0.0035},{"h":12.4,"v":0.009},{"h":12.2,"v":0.004},{"h":12,"v":0.0095},{"h":11.8,"v":0.0048},{"h":11.6,"v":0.01},{"h":11.4,"v":0.0055},{"h":11.2,"v":0.011},{"h":11,"v":0.006},{"h":10.8,"v":0.012},{"h":10.6,"v":0.0068},{"h":10.4,"v":0.013},{"h":10.2,"v":0.0078},{"h":10,"v":0.014},{"h":9.5,"v":0.011},{"h":9,"v":0.016},{"h":8.5,"v":0.015},{"h":8,"v":0.02},{"h":7.5,"v":0.022},{"h":7,"v":0.028},{"h":6.5,"v":0.03},{"h":6,"v":0.04},{"h":5.5,"v":0.046},{"h":5,"v":0.058},{"h":4.5,"v":0.068},{"h":4,"v":0.078},{"h":3.6,"v":0.095},{"h":3.24,"v":0.12},{"h":3,"v":0.15},{"h":2.85,"v":0.4},{"h":2.68,"v":1.1},{"h":2.5,"v":4},{"h":2.28,"v":19},{"h":1.88,"v":67},{"h":1.72,"v":137},{"h":1.56,"v":430},{"h":0.45,"v":430},{"h":0.37,"v":77},{"h":0.13,"v":14},{"h":0,"v":12}
    ],
    "wS": [
      {"h":39.75,"v":0.0006},{"h":39.25,"v":0.0072},{"h":38.75,"v":0.0007},{"h":38.25,"v":0.0085},{"h":37.75,"v":0.0006},{"h":37.25,"v":0.0078},{"h":36.75,"v":0.0008},{"h":36.5,"v":0.0095},{"h":36.25,"v":0.0006},{"h":35.75,"v":0.0082},{"h":35.25,"v":0.0007},{"h":34.75,"v":0.0078},{"h":34.25,"v":0.0006},{"h":33.75,"v":0.0092},{"h":33.25,"v":0.0008},{"h":32.75,"v":0.0085},{"h":32.25,"v":0.0006},{"h":31.75,"v":0.0095},{"h":31.25,"v":0.0007},{"h":30.75,"v":0.0098},{"h":30.25,"v":0.0006},{"h":29.75,"v":0.0092},{"h":29.25,"v":0.0008},{"h":28.75,"v":0.0085},{"h":28.25,"v":0.0006},{"h":27.75,"v":0.0105},{"h":27.25,"v":0.0007},{"h":26.75,"v":0.0098},{"h":26.25,"v":0.0006},{"h":25.75,"v":0.0092},{"h":25.25,"v":0.0008},{"h":25,"v":0.0115},{"h":24.75,"v":0.0006},{"h":24.25,"v":0.0098},{"h":23.75,"v":0.0007},{"h":23.25,"v":0.0095},{"h":22.75,"v":0.0006},{"h":22.25,"v":0.0102},{"h":21.75,"v":0.0008},{"h":21.25,"v":0.0108},{"h":20.75,"v":0.0006},{"h":20.25,"v":0.0125},{"h":19.75,"v":0.0007},{"h":19.25,"v":0.0118},{"h":18.75,"v":0.0006},{"h":18.25,"v":0.012},{"h":17.75,"v":0.0008},{"h":17.25,"v":0.0125},{"h":16.75,"v":0.0006},{"h":16.25,"v":0.013},{"h":15.75,"v":0.0009},{"h":15.25,"v":0.018},{"h":15,"v":0.0015},{"h":14.75,"v":0.012},{"h":14.5,"v":0.0018},{"h":14.25,"v":0.01},{"h":14,"v":0.0022},{"h":13.75,"v":0.011},{"h":13.5,"v":0.0025},{"h":13.25,"v":0.009},{"h":13,"v":0.0018},{"h":12.75,"v":0.012},{"h":12.5,"v":0.0045},{"h":12.25,"v":0.016},{"h":12,"v":0.006},{"h":11.75,"v":0.018},{"h":11.6,"v":0.007},{"h":11.4,"v":0.02},{"h":11.25,"v":0.034},{"h":11.1,"v":0.012},{"h":10.9,"v":0.018},{"h":10.5,"v":0.016},{"h":10,"v":0.02},{"h":9,"v":0.019},{"h":8,"v":0.022},{"h":7,"v":0.03},{"h":6,"v":0.04},{"h":5,"v":0.065},{"h":4.5,"v":0.087},{"h":4.1,"v":0.17},{"h":3.8,"v":0.36},{"h":3.4,"v":1.1},{"h":3.08,"v":4.6},{"h":2.68,"v":19},{"h":2.12,"v":67},{"h":1.72,"v":90},{"h":1.6,"v":300},{"h":1.3,"v":480},{"h":0.6,"v":500},{"h":0.45,"v":120},{"h":0.2,"v":45},{"h":0.05,"v":29},{"h":0,"v":25}
    ],
    "wT": [
      {"h":40,"v":0.0006},{"h":39.75,"v":0.0068},{"h":39.5,"v":0.0008},{"h":39.25,"v":0.0062},{"h":39,"v":0.0006},{"h":38.75,"v":0.0072},{"h":38.5,"v":0.0007},{"h":38.25,"v":0.0065},{"h":38,"v":0.0006},{"h":37.75,"v":0.0074},{"h":37.5,"v":0.0009},{"h":37.25,"v":0.0068},{"h":37,"v":0.0006},{"h":36.75,"v":0.0071},{"h":36.5,"v":0.0007},{"h":36.25,"v":0.0064},{"h":36,"v":0.0006},{"h":35.75,"v":0.0075},{"h":35.5,"v":0.0008},{"h":35.25,"v":0.0069},{"h":35,"v":0.0006},{"h":34.75,"v":0.0073},{"h":34.5,"v":0.0007},{"h":34.25,"v":0.0078},{"h":34,"v":0.0006},{"h":33.75,"v":0.0071},{"h":33.5,"v":0.001},{"h":33.25,"v":0.0082},{"h":33,"v":0.0006},{"h":32.75,"v":0.0076},{"h":32.5,"v":0.0007},{"h":32.25,"v":0.0084},{"h":32,"v":0.0006},{"h":31.75,"v":0.0079},{"h":31.5,"v":0.0008},{"h":31.25,"v":0.0073},{"h":31,"v":0.0006},{"h":30.75,"v":0.0086},{"h":30.5,"v":0.0007},{"h":30.25,"v":0.0078},{"h":30,"v":0.0006},{"h":29.75,"v":0.0088},{"h":29.5,"v":0.0009},{"h":29.25,"v":0.0081},{"h":29,"v":0.0006},{"h":28.75,"v":0.0087},{"h":28.5,"v":0.0007},{"h":28.25,"v":0.0092},{"h":28,"v":0.0006},{"h":27.75,"v":0.0084},{"h":27.5,"v":0.0008},{"h":27.25,"v":0.0089},{"h":27,"v":0.0006},{"h":26.75,"v":0.0093},{"h":26.5,"v":0.0007},{"h":26.25,"v":0.0086},{"h":26,"v":0.0006},{"h":25.75,"v":0.0091},{"h":25.5,"v":0.0009},{"h":25.25,"v":0.0088},{"h":25,"v":0.0006},{"h":24.75,"v":0.0096},{"h":24.5,"v":0.0007},{"h":24.25,"v":0.0092},{"h":24,"v":0.0006},{"h":23.75,"v":0.0098},{"h":23.5,"v":0.0008},{"h":23.25,"v":0.0104},{"h":23,"v":0.0006},{"h":22.75,"v":0.0097},{"h":22.5,"v":0.0007},{"h":22.25,"v":0.0102},{"h":22,"v":0.0006},{"h":21.75,"v":0.0115},{"h":21.5,"v":0.0009},{"h":21.25,"v":0.0118},{"h":21,"v":0.0006},{"h":20.75,"v":0.0112},{"h":20.5,"v":0.0007},{"h":20.25,"v":0.0122},{"h":20,"v":0.0006},{"h":19.75,"v":0.0128},{"h":19.5,"v":0.0008},{"h":19.25,"v":0.0121},{"h":19,"v":0.0006},{"h":18.75,"v":0.0126},{"h":18.5,"v":0.0007},{"h":18.25,"v":0.0132},{"h":18,"v":0.0006},{"h":17.75,"v":0.0128},{"h":17.5,"v":0.0009},{"h":17.25,"v":0.0135},{"h":17,"v":0.0006},{"h":16.75,"v":0.0142},{"h":16.5,"v":0.0007},{"h":16.25,"v":0.0148},{"h":16,"v":0.0015},{"h":15.75,"v":0.0152},{"h":15.5,"v":0.002},{"h":15.25,"v":0.0158},{"h":15,"v":0.0025},{"h":14.75,"v":0.0165},{"h":14.5,"v":0.003},{"h":14.25,"v":0.0172},{"h":14,"v":0.0035},{"h":13.75,"v":0.0178},{"h":13.5,"v":0.004},{"h":13.25,"v":0.0192},{"h":13,"v":0.005},{"h":12.75,"v":0.0205},{"h":12.5,"v":0.006},{"h":12.3,"v":0.024},
      {"h":12,"v":0.03},{"h":11.9,"v":0.06},{"h":11.8,"v":0.115},{"h":11.7,"v":0.07},{"h":11.6,"v":0.06},{"h":11.45,"v":0.075},{"h":11.3,"v":0.106},{"h":11.15,"v":0.08},{"h":11.05,"v":0.065},{"h":10.9,"v":0.057},{"h":10.82,"v":0.0038},
      {"h":10.75,"v":0.024},{"h":10.6,"v":0.007},{"h":10.45,"v":0.025},{"h":10.3,"v":0.0075},{"h":10.15,"v":0.024},{"h":10,"v":0.008},{"h":9.85,"v":0.025},{"h":9.7,"v":0.009},{"h":9.55,"v":0.026},{"h":9.4,"v":0.0105},{"h":9.25,"v":0.027},{"h":9.1,"v":0.012},{"h":8.95,"v":0.028},{"h":8.8,"v":0.013},{"h":8.6,"v":0.03},{"h":8.4,"v":0.015},{"h":8.2,"v":0.033},{"h":8,"v":0.018},{"h":7.8,"v":0.036},{"h":7.6,"v":0.021},{"h":7.4,"v":0.04},{"h":7.2,"v":0.025},{"h":7,"v":0.045},{"h":6.8,"v":0.029},{"h":6.6,"v":0.05},{"h":6.4,"v":0.034},{"h":6.2,"v":0.056},{"h":6,"v":0.04},{"h":5.8,"v":0.062},{"h":5.6,"v":0.048},{"h":5.4,"v":0.07},{"h":5.2,"v":0.058},{"h":5,"v":0.08},
      {"h":4.6,"v":0.09},{"h":4.2,"v":0.11},{"h":3.9,"v":0.15},{"h":3.6,"v":0.4},{"h":3.3,"v":1.1},{"h":3,"v":4.6},{"h":2.68,"v":19},{"h":2.36,"v":58},{"h":2.12,"v":77},{"h":1.95,"v":72},{"h":1.88,"v":72},{"h":1.8,"v":120},{"h":1.56,"v":325},{"h":1.4,"v":430},{"h":0.77,"v":500},{"h":0.69,"v":325},{"h":0.53,"v":39},{"h":0.29,"v":19},{"h":0,"v":15}
    ]
  },
  "hconcat": [
    {
      "title": "North radial direction",
      "width": 546,
      "height": 1392,
      "encoding": {
        "x": {"field": "v", "type": "quantitative", "scale": {"type": "log", "domain": [0.001, 10000], "nice": false},
          "axis": {"title": "Signal (mV)", "titleFont": "Liberation Serif", "labelFont": "Liberation Serif", "values": [0.001, 0.01, 0.1, 1, 10, 100, 1000, 10000],
            "labelExpr": "round(log(datum.value)/LN10) == -3 ? '10⁻³' : round(log(datum.value)/LN10) == -1 ? '10⁻¹' : round(log(datum.value)/LN10) == 1 ? '10¹' : round(log(datum.value)/LN10) == 3 ? '10³' : ''",
            "tickSize": {"condition": {"test": "abs(round(log(datum.value)/LN10)) % 2 == 1", "value": 24}, "value": 15},
            "labelPadding": 25, "titleY": 158, "titleBaseline": "alphabetic"}},
        "y": {"field": "h", "type": "quantitative", "scale": {"domain": [0, 40], "nice": false, "zero": false},
          "axis": {"title": "Height (km)", "titleFont": "Liberation Serif", "labelFont": "Liberation Serif", "values": [0, 5, 10, 15, 20, 25, 30, 35, 40], "tickSize": 24, "labelPadding": 14, "titleX": -123, "titleY": 696, "titleBaseline": "alphabetic"}},
        "order": {"field": "h", "type": "quantitative"}
      },
      "layer": [
        {"data": {"name": "nF"}, "transform": [{"filter": "datum.h >= 24"}], "mark": {"type": "line", "clip": true, "interpolate": "step-after", "strokeWidth": 6},
          "encoding": {"color": {"datum": "The First Lap", "type": "nominal",
            "scale": {"domain": ["The First Lap", "The Second Lap", "The Third Lap"], "range": ["#474747", "#f23b3b", "#1766e0"]},
            "legend": {"legendX": 118, "legendY": 33, "labelOffset": 42, "encode": {"symbols": {"update": {
              "strokeDash": {"signal": "datum.value === 'The Second Lap' ? [1, 51] : datum.value === 'The First Lap' ? [15, 12] : [1, 0]"},
              "strokeWidth": {"signal": "datum.value === 'The Second Lap' ? 10 : datum.value === 'The First Lap' ? 5 : 3.5"},
              "strokeCap": {"signal": "datum.value === 'The Second Lap' ? 'round' : 'butt'"}}}}}}}},
        {"data": {"name": "nF"}, "transform": [{"filter": "datum.h <= 24"}], "mark": {"type": "line", "clip": true, "strokeWidth": 4.5, "strokeDash": [11, 6], "strokeJoin": "round"},
          "encoding": {"color": {"datum": "The First Lap", "type": "nominal"}}},
        {"data": {"name": "nS"}, "transform": [{"filter": "datum.h >= 21"}], "mark": {"type": "line", "clip": true, "interpolate": "step-after", "strokeWidth": 8, "strokeDash": [0.5, 16], "strokeCap": "round"},
          "encoding": {"color": {"datum": "The Second Lap", "type": "nominal"}}},
        {"data": {"name": "nS"}, "transform": [{"filter": "datum.h <= 21"}], "mark": {"type": "line", "clip": true, "strokeWidth": 8, "strokeDash": [0.5, 16], "strokeCap": "round", "strokeJoin": "round"},
          "encoding": {"color": {"datum": "The Second Lap", "type": "nominal"}}},
        {"data": {"name": "nT"}, "transform": [{"filter": "datum.h >= 17.5"}], "mark": {"type": "line", "clip": true, "interpolate": "step-after", "strokeWidth": 7.5},
          "encoding": {"color": {"datum": "The Third Lap", "type": "nominal"}}},
        {"data": {"name": "nT"}, "transform": [{"filter": "datum.h <= 17.5"}], "mark": {"type": "line", "clip": true, "strokeWidth": 3.5, "strokeJoin": "round"},
          "encoding": {"color": {"datum": "The Third Lap", "type": "nominal"}}}
      ]
    },
    {
      "title": "East radial direction",
      "width": 546,
      "height": 1392,
      "encoding": {
        "x": {"field": "v", "type": "quantitative", "scale": {"type": "log", "domain": [0.001, 10000], "nice": false},
          "axis": {"title": "Signal (mV)", "titleFont": "Liberation Serif", "labelFont": "Liberation Serif", "values": [0.001, 0.01, 0.1, 1, 10, 100, 1000, 10000],
            "labelExpr": "round(log(datum.value)/LN10) == -3 ? '10⁻³' : round(log(datum.value)/LN10) == -1 ? '10⁻¹' : round(log(datum.value)/LN10) == 1 ? '10¹' : round(log(datum.value)/LN10) == 3 ? '10³' : ''",
            "tickSize": {"condition": {"test": "abs(round(log(datum.value)/LN10)) % 2 == 1", "value": 24}, "value": 15},
            "labelPadding": 25, "titleY": 158, "titleBaseline": "alphabetic"}},
        "y": {"field": "h", "type": "quantitative", "scale": {"domain": [0, 40], "nice": false, "zero": false},
          "axis": {"title": "Height (km)", "titleFont": "Liberation Serif", "labelFont": "Liberation Serif", "values": [0, 5, 10, 15, 20, 25, 30, 35, 40], "tickSize": 24, "labelPadding": 14, "titleX": -123, "titleY": 696, "titleBaseline": "alphabetic"}},
        "order": {"field": "h", "type": "quantitative"}
      },
      "layer": [
        {"data": {"name": "eF"}, "transform": [{"filter": "datum.h >= 25"}], "mark": {"type": "line", "clip": true, "interpolate": "step-after", "strokeWidth": 6},
          "encoding": {"color": {"datum": "The First Lap", "type": "nominal",
            "scale": {"domain": ["The First Lap", "The Second Lap", "The Third Lap"], "range": ["#474747", "#f23b3b", "#1766e0"]},
            "legend": {"legendX": 118, "legendY": 33, "labelOffset": 42, "encode": {"symbols": {"update": {
              "strokeDash": {"signal": "datum.value === 'The Second Lap' ? [1, 51] : datum.value === 'The First Lap' ? [15, 12] : [1, 0]"},
              "strokeWidth": {"signal": "datum.value === 'The Second Lap' ? 10 : datum.value === 'The First Lap' ? 5 : 3.5"},
              "strokeCap": {"signal": "datum.value === 'The Second Lap' ? 'round' : 'butt'"}}}}}}}},
        {"data": {"name": "eF"}, "transform": [{"filter": "datum.h <= 25"}], "mark": {"type": "line", "clip": true, "strokeWidth": 4.5, "strokeDash": [11, 6], "strokeJoin": "round"},
          "encoding": {"color": {"datum": "The First Lap", "type": "nominal"}}},
        {"data": {"name": "eT"}, "transform": [{"filter": "datum.h >= 12.3"}], "mark": {"type": "line", "clip": true, "interpolate": "step-after", "strokeWidth": 7.5},
          "encoding": {"color": {"datum": "The Third Lap", "type": "nominal"}}},
        {"data": {"name": "eT"}, "transform": [{"filter": "datum.h <= 10.85 && datum.h >= 3.5"}], "mark": {"type": "line", "clip": true, "interpolate": "step-after", "strokeWidth": 7.5},
          "encoding": {"color": {"datum": "The Third Lap", "type": "nominal"}}},
        {"data": {"name": "eS"}, "transform": [{"filter": "datum.h >= 10"}], "mark": {"type": "line", "clip": true, "interpolate": "step-after", "strokeWidth": 8, "strokeDash": [0.5, 16], "strokeCap": "round"},
          "encoding": {"color": {"datum": "The Second Lap", "type": "nominal"}}},
        {"data": {"name": "eS"}, "transform": [{"filter": "datum.h <= 10"}], "mark": {"type": "line", "clip": true, "strokeWidth": 8, "strokeDash": [0.5, 16], "strokeCap": "round", "strokeJoin": "round"},
          "encoding": {"color": {"datum": "The Second Lap", "type": "nominal"}}},
        {"data": {"name": "eT"}, "transform": [{"filter": "datum.h <= 12.3 && datum.h >= 10.85"}], "mark": {"type": "line", "clip": true, "strokeWidth": 3.5, "strokeJoin": "round"},
          "encoding": {"color": {"datum": "The Third Lap", "type": "nominal"}}},
        {"data": {"name": "eT"}, "transform": [{"filter": "datum.h <= 3.5"}], "mark": {"type": "line", "clip": true, "strokeWidth": 3.5, "strokeJoin": "round"},
          "encoding": {"color": {"datum": "The Third Lap", "type": "nominal"}}}
      ]
    },
    {
      "title": "South radial direction",
      "width": 546,
      "height": 1392,
      "encoding": {
        "x": {"field": "v", "type": "quantitative", "scale": {"type": "log", "domain": [0.001, 10000], "nice": false},
          "axis": {"title": "Signal (mV)", "titleFont": "Liberation Serif", "labelFont": "Liberation Serif", "values": [0.001, 0.01, 0.1, 1, 10, 100, 1000, 10000],
            "labelExpr": "round(log(datum.value)/LN10) == -3 ? '10⁻³' : round(log(datum.value)/LN10) == -1 ? '10⁻¹' : round(log(datum.value)/LN10) == 1 ? '10¹' : round(log(datum.value)/LN10) == 3 ? '10³' : ''",
            "tickSize": {"condition": {"test": "abs(round(log(datum.value)/LN10)) % 2 == 1", "value": 24}, "value": 15},
            "labelPadding": 25, "titleY": 158, "titleBaseline": "alphabetic"}},
        "y": {"field": "h", "type": "quantitative", "scale": {"domain": [0, 40], "nice": false, "zero": false},
          "axis": {"title": "Height (km)", "titleFont": "Liberation Serif", "labelFont": "Liberation Serif", "values": [0, 5, 10, 15, 20, 25, 30, 35, 40], "tickSize": 24, "labelPadding": 14, "titleX": -123, "titleY": 696, "titleBaseline": "alphabetic"}},
        "order": {"field": "h", "type": "quantitative"}
      },
      "layer": [
        {"data": {"name": "sT"}, "transform": [{"filter": "datum.h >= 12.3"}], "mark": {"type": "line", "clip": true, "interpolate": "step-after", "strokeWidth": 7.5},
          "encoding": {"color": {"datum": "The Third Lap", "type": "nominal",
            "scale": {"domain": ["The First Lap", "The Second Lap", "The Third Lap"], "range": ["#474747", "#f23b3b", "#1766e0"]},
            "legend": {"legendX": 118, "legendY": 33, "labelOffset": 42, "encode": {"symbols": {"update": {
              "strokeDash": {"signal": "datum.value === 'The Second Lap' ? [1, 0] : datum.value === 'The First Lap' ? [1, 0] : [1, 0]"},
              "strokeWidth": {"signal": "datum.value === 'The Second Lap' ? 4 : datum.value === 'The First Lap' ? 4 : 4"},
              "strokeCap": {"signal": "datum.value === 'The Second Lap' ? 'butt' : 'butt'"}}}}}}}},
        {"data": {"name": "sT"}, "transform": [{"filter": "datum.h <= 10.8 && datum.h >= 8.52"}], "mark": {"type": "line", "clip": true, "interpolate": "step-after", "strokeWidth": 7.5},
          "encoding": {"color": {"datum": "The Third Lap", "type": "nominal"}}},
        {"data": {"name": "sF"}, "transform": [{"filter": "datum.h >= 12.5"}], "mark": {"type": "line", "clip": true, "interpolate": "step-after", "strokeWidth": 2.5},
          "encoding": {"color": {"datum": "The First Lap", "type": "nominal"}}},
        {"data": {"name": "sS"}, "transform": [{"filter": "datum.h >= 12.65"}], "mark": {"type": "line", "clip": true, "interpolate": "step-after", "strokeWidth": 2.5},
          "encoding": {"color": {"datum": "The Second Lap", "type": "nominal"}}},
        {"data": {"name": "sF"}, "transform": [{"filter": "datum.h <= 12.5"}], "mark": {"type": "line", "clip": true, "strokeWidth": 3.5, "strokeJoin": "round"},
          "encoding": {"color": {"datum": "The First Lap", "type": "nominal"}}},
        {"data": {"name": "sS"}, "transform": [{"filter": "datum.h <= 12.65"}], "mark": {"type": "line", "clip": true, "strokeWidth": 3.5, "strokeJoin": "round"},
          "encoding": {"color": {"datum": "The Second Lap", "type": "nominal"}}},
        {"data": {"name": "sT"}, "transform": [{"filter": "datum.h <= 12.3 && datum.h >= 10.8"}], "mark": {"type": "line", "clip": true, "strokeWidth": 3.5, "strokeJoin": "round"},
          "encoding": {"color": {"datum": "The Third Lap", "type": "nominal"}}},
        {"data": {"name": "sT"}, "transform": [{"filter": "datum.h <= 8.52"}], "mark": {"type": "line", "clip": true, "strokeWidth": 3.5, "strokeJoin": "round"},
          "encoding": {"color": {"datum": "The Third Lap", "type": "nominal"}}}
      ]
    },
    {
      "title": "West radial direction",
      "width": 546,
      "height": 1392,
      "encoding": {
        "x": {"field": "v", "type": "quantitative", "scale": {"type": "log", "domain": [0.001, 10000], "nice": false},
          "axis": {"title": "Signal (mV)", "titleFont": "Liberation Serif", "labelFont": "Liberation Serif", "values": [0.001, 0.01, 0.1, 1, 10, 100, 1000, 10000],
            "labelExpr": "round(log(datum.value)/LN10) == -3 ? '10⁻³' : round(log(datum.value)/LN10) == -1 ? '10⁻¹' : round(log(datum.value)/LN10) == 1 ? '10¹' : round(log(datum.value)/LN10) == 3 ? '10³' : ''",
            "tickSize": {"condition": {"test": "abs(round(log(datum.value)/LN10)) % 2 == 1", "value": 24}, "value": 15},
            "labelPadding": 25, "titleY": 158, "titleBaseline": "alphabetic"}},
        "y": {"field": "h", "type": "quantitative", "scale": {"domain": [0, 40], "nice": false, "zero": false},
          "axis": {"title": "Height (km)", "titleFont": "Liberation Serif", "labelFont": "Liberation Serif", "values": [0, 5, 10, 15, 20, 25, 30, 35, 40], "tickSize": 24, "labelPadding": 14, "titleX": -123, "titleY": 696, "titleBaseline": "alphabetic"}},
        "order": {"field": "h", "type": "quantitative"}
      },
      "layer": [
        {"data": {"name": "wF"}, "transform": [{"filter": "datum.h >= 10"}], "mark": {"type": "line", "clip": true, "interpolate": "step-after", "strokeWidth": 5},
          "encoding": {"color": {"datum": "The First Lap", "type": "nominal",
            "scale": {"domain": ["The First Lap", "The Second Lap", "The Third Lap"], "range": ["#474747", "#f23b3b", "#1766e0"]},
            "legend": {"legendX": 118, "legendY": 33, "labelOffset": 42, "encode": {"symbols": {"update": {
              "strokeDash": {"signal": "datum.value === 'The Second Lap' ? [1, 51] : datum.value === 'The First Lap' ? [15, 12] : [1, 0]"},
              "strokeWidth": {"signal": "datum.value === 'The Second Lap' ? 10 : datum.value === 'The First Lap' ? 5 : 3.5"},
              "strokeCap": {"signal": "datum.value === 'The Second Lap' ? 'round' : 'butt'"}}}}}}}},
        {"data": {"name": "wF"}, "transform": [{"filter": "datum.h <= 10"}], "mark": {"type": "line", "clip": true, "strokeWidth": 4.5, "strokeDash": [11, 6], "strokeJoin": "round"},
          "encoding": {"color": {"datum": "The First Lap", "type": "nominal"}}},
        {"data": {"name": "wT"}, "transform": [{"filter": "datum.h >= 12.3"}], "mark": {"type": "line", "clip": true, "interpolate": "step-after", "strokeWidth": 7.5},
          "encoding": {"color": {"datum": "The Third Lap", "type": "nominal"}}},
        {"data": {"name": "wT"}, "transform": [{"filter": "datum.h <= 10.82 && datum.h >= 5"}], "mark": {"type": "line", "clip": true, "interpolate": "step-after", "strokeWidth": 7.5},
          "encoding": {"color": {"datum": "The Third Lap", "type": "nominal"}}},
        {"data": {"name": "wS"}, "transform": [{"filter": "datum.h >= 10.9"}], "mark": {"type": "line", "clip": true, "interpolate": "step-after", "strokeWidth": 8, "strokeDash": [0.5, 16], "strokeCap": "round"},
          "encoding": {"color": {"datum": "The Second Lap", "type": "nominal"}}},
        {"data": {"name": "wS"}, "transform": [{"filter": "datum.h <= 10.9"}], "mark": {"type": "line", "clip": true, "strokeWidth": 8, "strokeDash": [0.5, 16], "strokeCap": "round", "strokeJoin": "round"},
          "encoding": {"color": {"datum": "The Second Lap", "type": "nominal"}}},
        {"data": {"name": "wT"}, "transform": [{"filter": "datum.h <= 12.3 && datum.h >= 10.82"}], "mark": {"type": "line", "clip": true, "strokeWidth": 3.5, "strokeJoin": "round"},
          "encoding": {"color": {"datum": "The Third Lap", "type": "nominal"}}},
        {"data": {"name": "wT"}, "transform": [{"filter": "datum.h <= 5"}], "mark": {"type": "line", "clip": true, "strokeWidth": 3.5, "strokeJoin": "round"},
          "encoding": {"color": {"datum": "The Third Lap", "type": "nominal"}}}
      ]
    }
  ]
}
